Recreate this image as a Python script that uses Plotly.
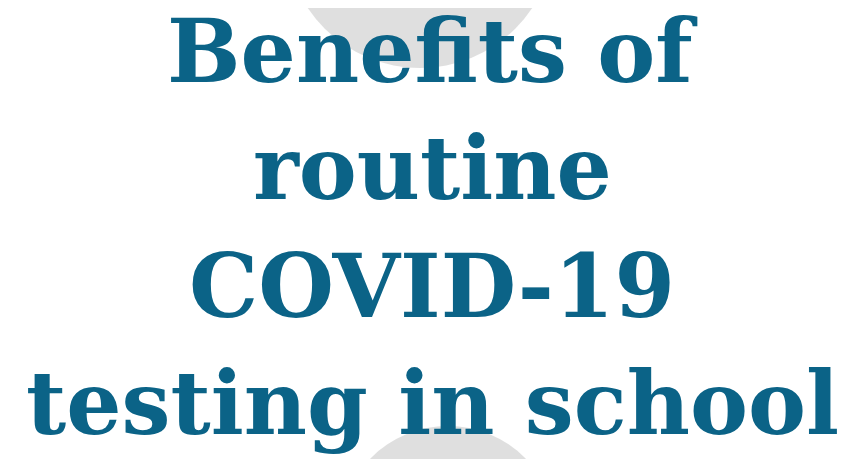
import plotly.graph_objects as go

title_lines = ["Benefits of", "routine", "COVID-19", "testing in school"]
line_centers_px = [44, 160, 278, 395]  # vertical centre of each line, pixels from top

W, H = 848, 459
TEXT_COLOR = "#0b6387"

fig = go.Figure()

# faint grey background silhouettes
def circ(cx, cy, r):
    return dict(type="circle", xref="paper", yref="paper",
                x0=(cx - r) / W, x1=(cx + r) / W,
                y0=1 - (cy + r) / H, y1=1 - (cy - r) / H,
                fillcolor="#d9d9d9", opacity=0.85, line=dict(width=0), layer="below")

shapes = [circ(412, -75, 135), circ(440, 527, 109)]

annotations = []
for txt, cy in zip(title_lines, line_centers_px):
    annotations.append(dict(
        text=f"<b>{txt}</b>", x=0.5, y=1 - cy / H, xref="paper", yref="paper",
        xanchor="center", yanchor="middle", showarrow=False,
        font=dict(family="DejaVu Serif", size=87, color=TEXT_COLOR)))

fig.update_layout(
    width=W, height=H, margin=dict(l=0, r=0, t=0, b=0),
    paper_bgcolor="white", plot_bgcolor="white",
    xaxis=dict(visible=False), yaxis=dict(visible=False),
    shapes=shapes, annotations=annotations, showlegend=False)

fig.write_html("out.html")
